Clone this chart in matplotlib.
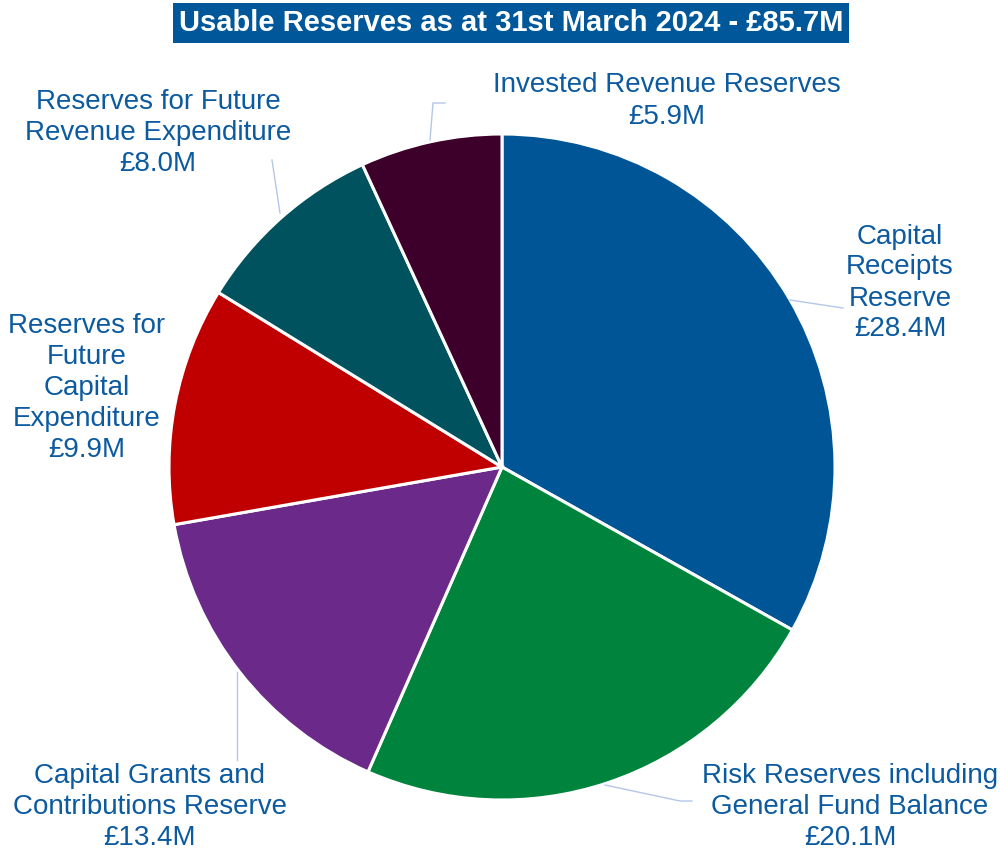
import matplotlib.pyplot as plt

plt.rcParams['font.family'] = ['Liberation Sans', 'DejaVu Sans']

# data
categories = ["Capital\nReceipts\nReserve",
              "Risk Reserves including\nGeneral Fund Balance",
              "Capital Grants and\nContributions Reserve",
              "Reserves for\nFuture\nCapital\nExpenditure",
              "Reserves for Future\nRevenue Expenditure",
              "Invested Revenue Reserves"]
values = [28.4, 20.1, 13.4, 9.9, 8.0, 5.9]
colors = ['#005596', '#00843D', '#6B2A8A', '#C00000', '#00535E', '#3D002A']
title = "Usable Reserves as at 31st March 2024 - £85.7M"

W, H = 1000, 852
fig = plt.figure(figsize=(W / 100, H / 100), dpi=100)
ax = fig.add_axes([0, 0, 1, 1])

def py(y):
    # pixel row -> data y
    return H - y

cx, cy, r = 502, py(467), 333
ax.pie(values, colors=colors, startangle=90, counterclock=False,
       center=(cx, cy), radius=r,
       wedgeprops=dict(edgecolor='white', linewidth=2.2))

ax.set_xlim(0, W)
ax.set_ylim(0, H)
ax.set_aspect('equal')
ax.axis('off')

# label positions (pixel) and leader lines
label_pos = [(900, 283), (850, 807), (150, 807), (87, 388), (158, 133), (667, 101)]
leaders = [
    [(790, 300), (843, 308)],
    [(605, 785), (680, 801), (692, 801)],
    [(237, 672), (237, 760)],
    None,
    [(280, 213), (272, 160)],
    [(430, 140), (433, 103), (445, 103)],
]
label_col = '#0C5AA0'
line_col = '#B4C7E7'

for name, v, (lx, ly), ld in zip(categories, values, label_pos, leaders):
    ax.text(lx, py(ly), f"{name}\n£{v:.1f}M", ha='center', va='center',
            fontsize=20, color=label_col, linespacing=1.25)
    if ld:
        ax.plot([p[0] for p in ld], [py(p[1]) for p in ld],
                color=line_col, lw=1.0)

ax.text(511, py(23), title, ha='center', va='center', fontsize=21,
        fontweight='bold', color='white',
        bbox=dict(boxstyle='square,pad=0.2', facecolor='#00589A',
                  edgecolor='none'))

plt.savefig("out.png", dpi=100)
